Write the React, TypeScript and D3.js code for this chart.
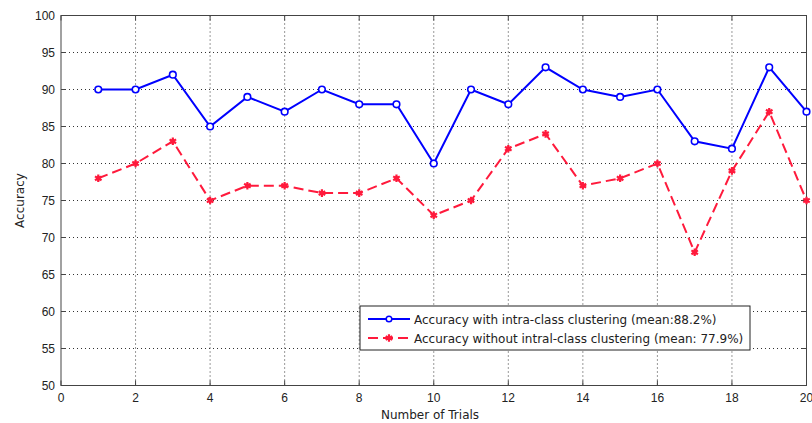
import React from "react";
import * as d3 from "d3";

const trials = d3.range(1, 21);
const withClustering = [90, 90, 92, 85, 89, 87, 90, 88, 88, 80, 90, 88, 93, 90, 89, 90, 83, 82, 93, 87];
const withoutClustering = [78, 80, 83, 75, 77, 77, 76, 76, 78, 73, 75, 82, 84, 77, 78, 80, 68, 79, 87, 75];
const xTicks = [0, 2, 4, 6, 8, 10, 12, 14, 16, 18, 20];
const yTicks = [50, 55, 60, 65, 70, 75, 80, 85, 90, 95, 100];
const seriesNames = [
  "Accuracy with intra-class clustering (mean:88.2%)",
  "Accuracy without intral-class clustering (mean: 77.9%)",
];

const W = 812, H = 423;
const L = 61, R = 806.5, T = 15.5, B = 385.5;
const FONT = "'DejaVu Sans', Verdana, sans-serif";
const TICKFONT = "'Liberation Sans', Arial, sans-serif";
const BLUE = "#0000ff";
const RED = "#ff1a3c";

export default function App() {
  const x = d3.scaleLinear().domain([0, 20]).range([L, R]);
  const y = d3.scaleLinear().domain([50, 100]).range([B, T]);
  const line = d3.line<number>().x((_, i) => x(trials[i])).y((d) => y(d));
  const ast = d3.symbol().type(d3.symbolAsterisk).size(40)()!;

  const legendX = 360, legendY = 306, legendW = 390, legendH = 44;

  return (
    <svg width={W} height={H} style={{ position: "absolute", left: 0, top: 0, background: "#fff" }}>
      <rect x={0} y={0} width={W} height={H} fill="#fff" />
      {/* grid */}
      {xTicks.slice(1, -1).map((t) => (
        <line key={"gx" + t} x1={x(t)} x2={x(t)} y1={T} y2={B} stroke="#333" strokeWidth={1} strokeDasharray="1,3" />
      ))}
      {yTicks.slice(1, -1).map((t) => (
        <line key={"gy" + t} x1={L} x2={R} y1={y(t)} y2={y(t)} stroke="#333" strokeWidth={1} strokeDasharray="1,3" />
      ))}
      {/* ticks */}
      {xTicks.map((t) => (
        <g key={"tx" + t}>
          <line x1={x(t)} x2={x(t)} y1={B} y2={B - 5} stroke="#444" />
          <line x1={x(t)} x2={x(t)} y1={T} y2={T + 5} stroke="#444" />
          <text x={x(t)} y={B + 16.5} textAnchor="middle" fontFamily={TICKFONT} fontSize={12} fill="#222">{t}</text>
        </g>
      ))}
      {yTicks.map((t) => (
        <g key={"ty" + t}>
          <line x1={L} x2={L + 5} y1={y(t)} y2={y(t)} stroke="#444" />
          <line x1={R} x2={R - 5} y1={y(t)} y2={y(t)} stroke="#444" />
          <text x={L - 6} y={y(t) + 4.5} textAnchor="end" fontFamily={TICKFONT} fontSize={12} fill="#222">{t}</text>
        </g>
      ))}
      <rect x={L} y={T} width={R - L} height={B - T} fill="none" stroke="#444" strokeWidth={1} />
      {/* series */}
      <path d={line(withoutClustering)!} fill="none" stroke={RED} strokeWidth={2} strokeDasharray="10,5" />
      {withoutClustering.map((v, i) => (
        <g key={"r" + i} transform={`translate(${x(trials[i])},${y(v)})`}>
          <path d={ast} stroke={RED} strokeWidth={2.2} fill="none" />
          <circle r={2.2} fill={RED} />
        </g>
      ))}
      <path d={line(withClustering)!} fill="none" stroke={BLUE} strokeWidth={2} />
      {withClustering.map((v, i) => (
        <circle key={"b" + i} cx={x(trials[i])} cy={y(v)} r={3.3} fill="#fff" stroke={BLUE} strokeWidth={1.6} />
      ))}
      {/* axis labels */}
      <text x={430} y={419} textAnchor="middle" fontFamily={FONT} fontSize={12} fill="#222">Number of Trials</text>
      <text transform={`translate(24,${(T + B) / 2}) rotate(-90)`} textAnchor="middle" fontFamily={FONT} fontSize={12} fill="#222">Accuracy</text>
      {/* legend */}
      <rect x={legendX} y={legendY} width={legendW} height={legendH} fill="#fff" stroke="#222" strokeWidth={1} />
      <line x1={legendX + 8} x2={legendX + 50} y1={legendY + 13} y2={legendY + 13} stroke={BLUE} strokeWidth={2} />
      <circle cx={legendX + 29} cy={legendY + 13} r={2.8} fill="#fff" stroke={BLUE} strokeWidth={1.5} />
      <text x={legendX + 54} y={legendY + 17.5} fontFamily={FONT} fontSize={12} fill="#222">{seriesNames[0]}</text>
      <line x1={legendX + 8} x2={legendX + 50} y1={legendY + 32} y2={legendY + 32} stroke={RED} strokeWidth={2} strokeDasharray="10,5" />
      <g transform={`translate(${legendX + 29},${legendY + 32})`}>
        <path d={ast} stroke={RED} strokeWidth={2.2} fill="none" />
        <circle r={2.2} fill={RED} />
      </g>
      <text x={legendX + 54} y={legendY + 37} fontFamily={FONT} fontSize={12} fill="#222">{seriesNames[1]}</text>
    </svg>
  );
}
